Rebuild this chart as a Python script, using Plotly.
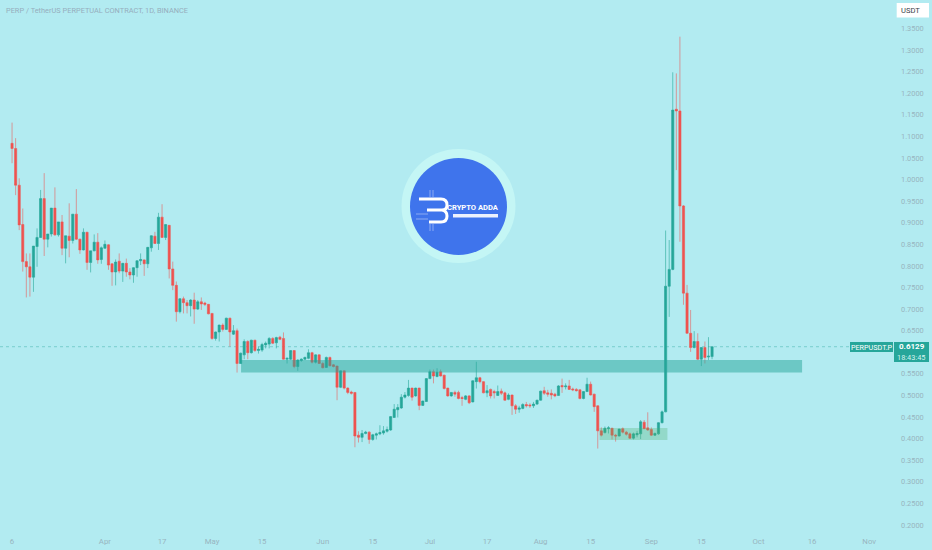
import pandas as pd
import plotly.graph_objects as go

W, H = 932, 550
PL, PB = 893, 532  # plot right / bottom edges in px

opens = [1.084,1.072,.987,.896,.810,.798,.774,.845,.866,.956,.862,.874,.934,.872,.902,.841,.869,.859,.920,.862,
 .837,.878,.808,.835,.855,.815,.841,.849,.805,.786,.811,.788,.806,.786,.779,.796,.812,.814,.805,.842,
 .869,.852,.913,.866,.894,.793,.755,.694,.724,.715,.708,.721,.700,.717,.714,.711,.690,.632,.647,.663,
 .653,.679,.642,.650,.574,.594,.625,.599,.628,.604,.605,.617,.619,.632,.622,.635,.632,.584,.584,.604,
 .567,.581,.584,.586,.599,.577,.594,.574,.565,.588,.571,.568,.519,.557,.517,.508,.507,.408,.403,.412,
 .415,.398,.408,.411,.413,.417,.420,.449,.467,.471,.496,.500,.517,.499,.517,.477,.486,.539,.555,.544,
 .555,.547,.517,.499,.507,.507,.495,.491,.499,.485,.532,.541,.532,.506,.514,.509,.500,.510,.506,.491,
 .501,.476,.468,.470,.479,.478,.476,.480,.489,.511,.506,.505,.503,.500,.523,.520,.522,.515,.514,.513,
 .493,.509,.526,.503,.476,.418,.414,.423,.424,.408,.406,.423,.415,.411,.401,.409,.411,.438,.425,.421,
 .408,.411,.437,.462,.753,.792,1.163,1.159,.939,.737,.644,.611,.625,.584,.611,.589,.590]
highs = [1.132,1.096,1.003,.933,.829,.829,.846,.887,.976,1.015,.874,.934,.982,.902,.918,.870,.945,.920,.978,.863,
 .887,.879,.835,.873,.876,.845,.859,.850,.806,.815,.829,.807,.817,.795,.797,.813,.829,.815,.844,.871,
 .879,.923,.943,.897,.895,.810,.764,.725,.729,.721,.723,.738,.721,.727,.717,.712,.691,.648,.664,.667,
 .680,.680,.663,.655,.599,.630,.628,.629,.629,.613,.622,.625,.635,.635,.636,.638,.646,.588,.605,.605,
 .584,.586,.590,.607,.601,.595,.595,.578,.590,.590,.573,.569,.558,.558,.519,.511,.508,.417,.420,.418,
 .417,.411,.414,.431,.429,.428,.452,.480,.480,.503,.508,.536,.518,.518,.518,.488,.540,.560,.560,.563,
 .560,.548,.518,.508,.511,.511,.499,.501,.501,.535,.578,.543,.533,.524,.516,.513,.523,.516,.509,.505,
 .502,.480,.476,.482,.485,.482,.485,.490,.511,.520,.513,.514,.506,.524,.539,.528,.536,.518,.517,.514,
 .510,.541,.532,.504,.477,.426,.428,.429,.425,.411,.423,.426,.418,.414,.414,.418,.443,.443,.461,.426,
 .414,.438,.465,.882,.860,1.2485,1.246,1.331,.941,.756,.698,.649,.644,.612,.625,.635,.613]
lows = [1.038,.964,.883,.787,.727,.729,.740,.798,.865,.823,.843,.868,.870,.868,.825,.806,.820,.852,.860,.828,
 .836,.791,.785,.834,.805,.805,.840,.791,.754,.755,.783,.763,.775,.769,.761,.775,.802,.777,.795,.833,
 .851,.837,.865,.860,.771,.744,.671,.690,.690,.690,.683,.666,.698,.698,.707,.688,.629,.627,.625,.648,
 .652,.613,.640,.553,.573,.584,.584,.597,.601,.597,.601,.609,.609,.619,.609,.628,.583,.574,.582,.563,
 .557,.578,.582,.584,.574,.574,.573,.563,.564,.567,.565,.489,.517,.514,.503,.502,.380,.391,.392,.410,
 .388,.395,.398,.408,.409,.414,.418,.448,.449,.469,.493,.497,.488,.497,.466,.476,.485,.538,.528,.542,
 .544,.514,.497,.497,.497,.491,.476,.489,.480,.484,.516,.528,.505,.496,.493,.493,.499,.501,.488,.489,
 .455,.457,.460,.468,.472,.471,.471,.478,.488,.501,.497,.491,.496,.499,.506,.514,.513,.510,.509,.491,
 .491,.508,.500,.462,.377,.405,.412,.412,.398,.393,.405,.412,.407,.399,.398,.403,.399,.422,.418,.406,
 .406,.409,.435,.461,.682,.790,1.022,.856,.710,.643,.601,.609,.582,.568,.574,.582,.584]
closes = [1.072,.987,.895,.810,.798,.774,.846,.866,.956,.862,.874,.934,.872,.902,.841,.870,.859,.920,.862,.837,
 .878,.808,.835,.855,.814,.842,.850,.802,.786,.809,.788,.806,.786,.779,.796,.812,.815,.805,.843,.870,
 .852,.913,.866,.896,.793,.755,.694,.724,.715,.708,.721,.700,.717,.712,.711,.689,.632,.647,.663,.653,
 .679,.647,.650,.574,.598,.625,.599,.628,.604,.607,.618,.621,.632,.621,.634,.630,.584,.586,.604,.567,
 .582,.584,.588,.599,.577,.594,.574,.564,.588,.569,.567,.519,.557,.517,.507,.505,.406,.403,.412,.415,
 .398,.409,.411,.414,.418,.421,.451,.468,.472,.496,.501,.517,.496,.517,.477,.487,.539,.555,.545,.554,
 .545,.516,.499,.507,.503,.493,.493,.499,.483,.534,.541,.532,.506,.511,.499,.506,.509,.505,.489,.501,
 .476,.468,.471,.479,.476,.476,.480,.489,.510,.505,.503,.501,.499,.522,.520,.522,.514,.513,.511,.493,
 .509,.526,.501,.474,.418,.408,.424,.425,.408,.406,.422,.415,.410,.401,.411,.412,.439,.423,.420,.408,
 .412,.437,.462,.753,.792,1.161,1.159,.939,.737,.644,.611,.625,.584,.611,.588,.591,.6129]

start_date = "2023-03-06"
tick_dates = ["2023-03-06","2023-04-01","2023-04-17","2023-05-01","2023-05-15","2023-06-01","2023-06-15",
              "2023-07-01","2023-07-17","2023-08-01","2023-08-15","2023-09-01","2023-09-15","2023-10-01",
              "2023-10-16","2023-11-01"]
tick_text = ["6","Apr","17","May","15","Jun","15","Jul","17","Aug","15","Sep","15","Oct","16","Nov"]
price_ticks = [0.20,0.25,0.30,0.35,0.40,0.45,0.50,0.55,0.65,0.70,0.75,0.80,0.85,0.90,0.95,1.00,1.05,1.10,1.15,
               1.20,1.25,1.30,1.35]  # 0.60 is hidden behind the price label in the reference
last_price = 0.6129
zone_low, zone_high = 0.5530, 0.5820
box_low, box_high = 0.3968, 0.4246

dates = pd.date_range(start_date, periods=len(opens), freq="D")

BG = "#b2ebf1"
TXT = "#98b5c0"
FONT = "Roboto"
UP, DOWN = "#26a69a", "#ef5350"

fig = go.Figure(go.Candlestick(
    x=dates, open=opens, high=highs, low=lows, close=closes,
    increasing=dict(fillcolor=UP, line=dict(color="rgba(38,166,154,0.6)", width=1)),
    decreasing=dict(fillcolor=DOWN, line=dict(color="rgba(239,83,80,0.55)", width=1)),
    whiskerwidth=0, hoverinfo="skip", showlegend=False,
))

def fx(px):
    return px / PL
def fy(py):
    return 1 - py / PB

def rect(x0, y0, x1, y1, fill, layer="above"):
    return dict(type="rect", xref="paper", yref="paper", x0=fx(x0), x1=fx(x1), y0=fy(y0), y1=fy(y1),
                fillcolor=fill, line=dict(width=0), layer=layer)

def circle(cx, cy, r, fill):
    return dict(type="circle", xref="paper", yref="paper", x0=fx(cx - r), x1=fx(cx + r),
                y0=fy(cy + r), y1=fy(cy - r), fillcolor=fill, line=dict(width=0), layer="above")

def seg(x0, y0, x1, y1, color="white", w=3):
    return dict(type="line", xref="paper", yref="paper", x0=fx(x0), x1=fx(x1), y0=fy(y0), y1=fy(y1),
                line=dict(color=color, width=w), layer="above")

def p(x, y):
    return f"{fx(x):.5f},{fy(y):.5f}"

logo_path = ("M" + p(419, 199) + " L" + p(441, 199) + " Q" + p(447, 199) + " " + p(447, 205)
             + " Q" + p(447, 210) + " " + p(442, 210) + " L" + p(427, 210)
             + " M" + p(442, 210) + " Q" + p(447, 211) + " " + p(447, 216)
             + " Q" + p(447, 222) + " " + p(441, 222) + " L" + p(429, 222))

shapes = [
    dict(type="line", xref="paper", yref="y", x0=0, x1=1, y0=last_price, y1=last_price,
         line=dict(color="rgba(38,166,154,0.4)", width=1, dash="dot"), layer="below"),
    dict(type="rect", xref="x", yref="y", x0="2023-05-09 03:00", x1="2023-10-13 05:00", y0=zone_low, y1=zone_high,
         fillcolor="rgba(38,166,154,0.5)", line=dict(width=0), layer="above"),
    dict(type="rect", xref="x", yref="y", x0="2023-08-17 12:00", x1="2023-09-05 12:00", y0=box_low, y1=box_high,
         fillcolor="rgba(76,175,110,0.3)", line=dict(width=0), layer="above"),
    circle(458.5, 206, 57, "#c4f6f5"),
    circle(458.5, 206.5, 48.5, "#3f74ec"),
    dict(type="path", xref="paper", yref="paper", path=logo_path, line=dict(color="white", width=3), layer="above"),
    seg(430, 190, 430, 197, "rgba(255,255,255,0.4)", 1), seg(433, 190, 433, 197, "rgba(255,255,255,0.4)", 1),
    seg(430, 224, 430, 231, "rgba(255,255,255,0.4)", 1), seg(433, 224, 433, 231, "rgba(255,255,255,0.4)", 1),
    seg(416, 214, 428, 214, "rgba(255,255,255,0.4)", 1), seg(416, 219, 428, 219, "rgba(255,255,255,0.4)", 1),
    rect(453, 214, 498, 217.5, "rgba(255,255,255,0.9)"),
    rect(896.7, 3, 929, 17.5, "white"),
    rect(850, 342, 893, 352, "#26a69a"),
    rect(894, 342, 929, 362, "#26a69a"),
]

def note(px, py, text, size, color, anchor="center"):
    return dict(xref="paper", yref="paper", x=fx(px), y=fy(py), text=text, showarrow=False, borderpad=0,
                xanchor=anchor, yanchor="middle", font=dict(family=FONT, size=size, color=color))

annotations = [
    note(5, 11, "PERP / TetherUS PERPETUAL CONTRACT, 1D, BINANCE", 7.4, "#96aebd", "left"),
    note(473, 207, "<b>CRYPTO ADDA</b>", 7.6, "white"),
    note(910, 10.5, "USDT", 7.6, "#3a3f4a"),
    note(871.5, 347, "PERPUSDT.P", 7.2, "white"),
    note(911.5, 346.8, "<b>0.6129</b>", 8, "white"),
    note(911.5, 357.4, "18:43:45", 7.4, "#d5f2ee"),
]

fig.update_layout(
    width=W, height=H, paper_bgcolor=BG, plot_bgcolor=BG,
    margin=dict(l=0, r=W - PL, t=0, b=H - PB),
    boxgap=0.12,
    shapes=shapes, annotations=annotations,
    xaxis=dict(type="date", range=["2023-03-02 15:00", "2023-11-07 16:00"], rangeslider=dict(visible=False),
               tickmode="array", tickvals=tick_dates, ticktext=tick_text, showgrid=False, zeroline=False,
               showline=False, ticks="", tickfont=dict(family=FONT, size=7.8, color=TXT), ticklabelstandoff=3),
    yaxis=dict(side="right", range=[0.1837, 1.416], tickmode="array", tickvals=price_ticks,
               ticktext=[f"{v:.4f}" for v in price_ticks], showgrid=False, zeroline=False, showline=False,
               ticks="", tickfont=dict(family=FONT, size=7.4, color=TXT), ticklabelstandoff=7),
)

fig.write_html("out.html", config=dict(displayModeBar=False), post_script="document.body.style.margin='0';")
